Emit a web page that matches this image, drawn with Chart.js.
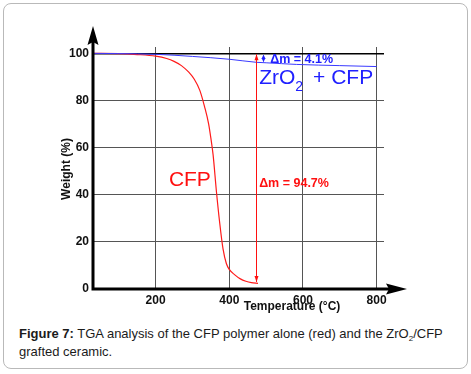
<!DOCTYPE html>
<html>
<head>
<meta charset="utf-8">
<script src="https://cdn.jsdelivr.net/npm/chart.js@4.4.1/dist/chart.umd.min.js"></script>
<style>
html,body{margin:0;padding:0;background:#fff;}
body{width:471px;height:374px;position:relative;overflow:hidden;font-family:Arial,"Liberation Sans",Helvetica,sans-serif;}
#box{position:absolute;left:3px;top:3px;width:463px;height:364px;border:1px solid #b9b9b9;border-radius:8px;}
#tga{position:absolute;left:0;top:0;}
#caption{position:absolute;left:19px;top:326px;width:442px;font-size:13px;line-height:16px;color:#1b1b1b;}
#caption sub{font-size:8px;vertical-align:baseline;position:relative;top:3px;}
</style>
</head>
<body>
<div id="box"></div>
<canvas id="tga" width="471" height="320"></canvas>
<div id="caption"><b>Figure 7:</b> TGA analysis of the CFP polymer alone (red) and the ZrO<sub>2</sub>/CFP grafted ceramic.</div>
<script>
// data (temperature in °C, weight in %)
const cfpTemp   = [30, 100, 150, 200, 230, 250, 270, 290, 305, 320, 333, 344, 350, 356, 365, 374, 383, 392, 400, 415, 430, 445, 460, 478];
const cfpWeight = [100, 99.9, 99.5, 98.8, 97.8, 96.6, 94.8, 92, 89, 84.3, 77.3, 70, 64, 57, 41.5, 28, 17, 10.8, 8.3, 6, 4.3, 3.3, 2.7, 2.4];
const zrTemp    = [30, 100, 200, 300, 400, 474, 500, 583, 700, 800];
const zrWeight  = [100, 99.9, 99.6, 98.7, 97.5, 96.2, 96.0, 95.3, 94.8, 94.4];
const xTicks = [200, 400, 600, 800];
const yTicks = [0, 20, 40, 60, 80, 100];
// weight loss markers: [temperature, from, to]
const cfpLoss = [472, 100, 3];
const zrLoss  = [492, 100, 96.1];

const FONT = 'Arial, "Liberation Sans", Helvetica, sans-serif';
const RED = "#ff1010", BLUE = "#2020ff";

function pts(xs, ys){ return xs.map((x,i)=>({x, y:ys[i]})); }

function arrowHead(ctx, x, y, dir, w, l){
  // dir: -1 pointing up, 1 pointing down
  ctx.beginPath();
  ctx.moveTo(x, y);
  ctx.lineTo(x - w, y - dir*l);
  ctx.lineTo(x + w, y - dir*l);
  ctx.closePath();
  ctx.fill();
}

const decor = {
  id: "decor",
  afterDraw(chart){
    const ctx = chart.ctx, a = chart.chartArea;
    const xs = chart.scales.x, ys = chart.scales.y;
    ctx.save();
    // axes with arrows
    ctx.strokeStyle = "#000"; ctx.fillStyle = "#000"; ctx.lineWidth = 3;
    ctx.beginPath();
    ctx.moveTo(a.left, a.bottom + 1.5); ctx.lineTo(a.left, a.top - 8);
    ctx.moveTo(a.left - 1.5, a.bottom); ctx.lineTo(a.right + 10, a.bottom);
    ctx.stroke();
    ctx.beginPath();
    ctx.moveTo(a.left, a.top - 21); ctx.lineTo(a.left - 5.5, a.top - 2); ctx.lineTo(a.left, a.top - 5); ctx.lineTo(a.left + 5.5, a.top - 2);
    ctx.closePath(); ctx.fill();
    ctx.beginPath();
    ctx.moveTo(a.right + 23, a.bottom); ctx.lineTo(a.right + 2, a.bottom - 5.5); ctx.lineTo(a.right + 5, a.bottom); ctx.lineTo(a.right + 2, a.bottom + 5.5);
    ctx.closePath(); ctx.fill();

    // weight loss arrows
    ctx.lineWidth = 1;
    let px = Math.round(xs.getPixelForValue(cfpLoss[0])) + 0.5;
    let y1 = ys.getPixelForValue(cfpLoss[1]), y2 = ys.getPixelForValue(cfpLoss[2]);
    ctx.strokeStyle = RED; ctx.fillStyle = RED;
    ctx.beginPath(); ctx.moveTo(px, y1 + 1); ctx.lineTo(px, y2); ctx.stroke();
    arrowHead(ctx, px, y1 + 1, -1, 2, 6);
    arrowHead(ctx, px, y2, 1, 2, 6);

    px = Math.round(xs.getPixelForValue(zrLoss[0])) + 0.5;
    y1 = ys.getPixelForValue(zrLoss[1]); y2 = ys.getPixelForValue(zrLoss[2]);
    ctx.strokeStyle = BLUE; ctx.fillStyle = BLUE;
    ctx.beginPath(); ctx.moveTo(px, y1 + 2); ctx.lineTo(px, y2 - 1); ctx.stroke();
    arrowHead(ctx, px, y1 + 1.5, -1, 2, 4);
    arrowHead(ctx, px, y2 - 0.5, 1, 2, 4);

    // labels
    ctx.textBaseline = "alphabetic"; ctx.textAlign = "left";
    ctx.fillStyle = RED;
    ctx.font = "21px " + FONT;
    ctx.fillText("CFP", xs.getPixelForValue(236), ys.getPixelForValue(43.8));
    ctx.font = "bold 12.5px " + FONT;
    ctx.fillText("\u0394m = 94.7%", xs.getPixelForValue(481), ys.getPixelForValue(43.4));

    ctx.fillStyle = BLUE;
    ctx.fillText("\u0394m = 4.1%", xs.getPixelForValue(511), ys.getPixelForValue(96.1));
    let tx = xs.getPixelForValue(481), ty = ys.getPixelForValue(86.9);
    ctx.font = "21px " + FONT;
    ctx.fillText("ZrO", tx, ty);
    tx += ctx.measureText("ZrO").width;
    ctx.font = "14px " + FONT;
    ctx.fillText("2", tx, ty + 7);
    tx += ctx.measureText("2").width + 10;
    ctx.font = "21px " + FONT;
    ctx.fillText("+ CFP", tx, ty);

    // axis titles
    ctx.fillStyle = "#111";
    ctx.font = "bold 12px " + FONT;
    ctx.textAlign = "center"; ctx.textBaseline = "middle";
    ctx.fillText("Temperature (\u00b0C)", 292, 306.5);
    ctx.translate(66.5, 169);
    ctx.rotate(-Math.PI / 2);
    ctx.fillText("Weight (%)", 0, 0);
    ctx.restore();
  }
};

new Chart(document.getElementById("tga"), {
  type: "line",
  data: {
    datasets: [
      {label: "ZrO2 + CFP", data: pts(zrTemp, zrWeight), borderColor: "#3a3aff", borderWidth: 1, pointRadius: 0, cubicInterpolationMode: "monotone"},
      {label: "CFP", data: pts(cfpTemp, cfpWeight), borderColor: "#ff1a1a", borderWidth: 1.2, pointRadius: 0, cubicInterpolationMode: "monotone"}
    ]
  },
  options: {
    responsive: false,
    animation: false,
    layout: {padding: {top: 47, right: 87, left: 0, bottom: 0}},
    plugins: {legend: {display: false}, tooltip: {enabled: false}},
    scales: {
      x: {
        type: "linear", min: 30, max: 820,
        afterBuildTicks: s => { s.ticks = xTicks.map(v => ({value: v})); },
        afterFit: s => { s.height = 31; },
        grid: {color: "#555", lineWidth: 1, drawTicks: false},
        border: {display: false},
        ticks: {padding: 4, color: "#111", font: {family: FONT, size: 12, weight: "bold"}}
      },
      y: {
        min: 0, max: 102.7,
        afterBuildTicks: s => { s.ticks = yTicks.map(v => ({value: v})); },
        afterFit: s => { s.width = 93; },
        grid: {color: c => c.tick && c.tick.value === 100 ? "#000" : "#555", lineWidth: c => c.tick && c.tick.value === 100 ? 1.5 : 1, drawTicks: false},
        border: {display: false},
        ticks: {padding: 4, color: "#111", font: {family: FONT, size: 12, weight: "bold"}}
      }
    }
  },
  plugins: [decor]
});
</script>
</body>
</html>
